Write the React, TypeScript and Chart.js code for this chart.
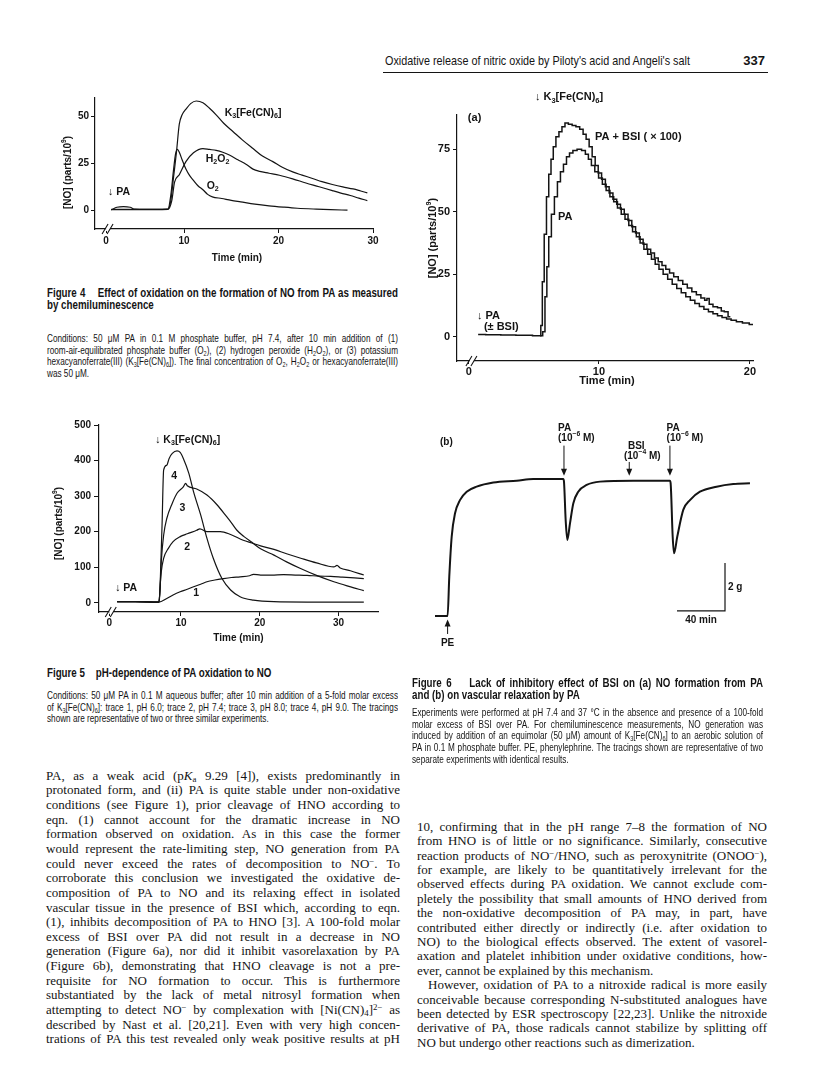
import React, { useEffect, useRef } from 'react';
import { Chart, registerables } from 'chart.js';
Chart.register(...registerables);

type P = [number, number];

// ---------------- Figure 4: time (min) vs [NO] (parts/10^9)
const fig4K3: P[] = [[2.3,0.5],[5.0,0.5],[8.3,0.7],[8.6,5],[8.9,18],[9.2,31],[9.5,46],[9.8,51],[10.2,54],[10.7,57],[11.3,58.4],[12.0,57.5],[12.7,54.5],[13.4,51],[14.2,46.5],[15.2,42],[16.2,37.5],[17.3,33],[18.3,29],[19.4,26],[20.4,23],[21.5,20.5],[22.5,18.8],[23.6,17],[24.6,15.3],[25.7,13.8],[26.8,12.5],[27.9,11.4],[28.7,10.3],[29.4,9.3]];
const fig4H2O2: P[] = [[2.3,0.3],[5.0,0.3],[8.3,0.5],[8.7,5],[9.0,15],[9.5,19],[10.2,26],[11.0,30.7],[12.0,33],[12.7,32.5],[13.4,32],[14.1,31],[14.8,29.5],[15.7,27],[16.6,24.5],[17.3,22],[18.0,20.8],[19.0,19.8],[20.1,18.7],[21.5,16.8],[22.9,14.6],[24.3,12.6],[25.7,10.5],[26.6,9.2],[27.6,7.9],[28.5,6.5],[29.4,5.2]];
const fig4O2: P[] = [[2.3,0.2],[2.9,1.6],[3.6,2],[4.3,1.6],[4.8,0.6],[6.0,0.5],[8.3,0.5],[8.6,8],[8.9,22],[9.1,30],[9.3,32.5],[9.5,31],[9.8,27],[10.2,22],[10.6,18.5],[11.0,16],[11.5,13],[12.0,11],[12.5,8.5],[13.0,7.2],[14.0,6.3],[15.0,5.3],[16.0,4.5],[17.5,3.3],[19.0,2.4],[20.5,1.7],[22.0,1.1],[24.0,0.6],[25.5,0.3],[27.3,0.1]];
const fig4YTicks = [0, 25, 50];
const fig4XTicks = [10, 20, 30];
const fig4ZeroTick = 1.75; // "0" label sits at the axis break

// ---------------- Figure 5: traces 1-4 (pH 6.0, 7.4, 8.0, 9.0)
const fig5Trace1: P[] = [[1.9,3],[4.2,3],[7.2,2],[8.2,12],[9.0,22],[9.9,31],[10.8,38],[11.6,45],[12.5,52],[13.3,59],[14.3,64],[15.4,68],[16.4,71],[17.5,73],[18.7,76],[19.2,80],[20.1,78],[21.5,78],[23.0,79],[24.5,78],[26.0,77],[27.5,75],[29.0,74],[30.5,72],[32.0,70],[33.2,68]];
const fig5Trace2: P[] = [[1.9,3],[4.2,3],[7.2,2],[7.4,60],[7.5,87],[7.8,125],[8.4,153],[9.0,172],[9.9,186],[10.8,194],[12.0,204],[12.4,208],[13.3,200],[15.0,200],[16.3,192],[17.9,176],[19.0,168],[20.1,160],[21.8,150],[23.4,138],[25.1,126],[27.2,112],[29.4,101],[29.8,105],[30.2,98],[31.5,90],[33.2,78]];
const fig5Trace3: P[] = [[1.9,3],[4.2,3],[7.2,2],[7.35,40],[7.5,115],[7.8,190],[8.2,237],[8.9,280],[9.5,308],[10.3,326],[10.6,336],[10.8,329],[12.0,320],[13.3,303],[14.6,275],[15.8,242],[16.5,222],[17.1,204],[18.0,186],[19.0,170],[20.1,152],[21.8,134],[23.4,115],[25.1,97],[27.2,77],[29.4,59],[31.3,46],[33.2,34]];
const fig5Trace4: P[] = [[1.9,3],[4.2,3],[7.2,2],[7.3,20],[7.4,78],[7.6,218],[7.8,373],[8.2,387],[8.5,406],[8.9,420],[9.5,427],[9.9,423],[10.3,406],[11.0,364],[11.6,312],[12.5,247],[13.3,181],[14.1,125],[15.2,68],[16.3,36],[17.5,17],[19.2,7.5],[21.8,3],[26.0,2],[33.2,2]];
const fig5YTicks = [0, 100, 200, 300, 400, 500];
const fig5XTicks = [10, 20, 30];
const fig5ZeroTick = 0.9;

// ---------------- Figure 6a: PA and PA + BSI (x100)
const fig6aPA: P[] = [[2.0,0.9],[3.0,0.8],[4.0,0.7],[5.0,0.6],[6.2,0.4],[6.35,2],[6.5,16],[6.6,28],[6.75,40],[6.95,49],[7.15,56],[7.35,62],[7.55,66],[7.75,69],[7.95,72],[8.15,73.5],[8.4,74.5],[8.7,75],[9.0,74.5],[9.2,73],[9.4,71],[9.6,68.5],[9.85,66],[10.1,63.5],[10.35,61],[10.6,58.5],[10.85,56],[11.1,54],[11.35,51.5],[11.6,49],[11.85,47],[12.1,44.5],[12.35,42],[12.6,40],[12.85,37.5],[13.1,35],[13.35,33],[13.6,31],[13.85,29],[14.1,27],[14.4,25],[14.7,23],[15.0,21],[15.3,19.3],[15.6,17.6],[15.9,16],[16.2,14.6],[16.5,13.3],[16.8,12.1],[17.1,11],[17.4,10],[17.7,9.2],[18.0,8.4],[18.3,7.7],[18.6,7.1],[18.9,6.6],[19.3,6.0],[19.7,5.5],[20.2,4.9]];
const fig6aPABSI: P[] = [[6.1,0.4],[6.2,4.5],[6.3,22],[6.45,41],[6.6,56],[6.75,65],[6.9,71],[7.05,76],[7.25,80],[7.45,82],[7.65,84],[7.85,85.5],[8.1,85],[8.35,84.5],[8.6,84],[8.85,83],[9.05,81],[9.25,79],[9.45,76],[9.65,72],[9.85,68.5],[10.05,65.5],[10.3,63],[10.55,60],[10.8,57.5],[11.05,55],[11.3,53],[11.55,51],[11.8,49],[12.05,46.5],[12.3,44],[12.55,41.5],[12.8,39],[13.05,37],[13.3,35],[13.55,33.5],[13.8,31.5],[14.05,30],[14.3,28.5],[14.55,27],[14.8,25.5],[15.1,24],[15.4,22.5],[15.7,21],[16.0,19.5],[16.3,18],[16.6,16.8],[16.9,15.5],[17.1,14.6],[17.2,15.3],[17.4,13],[17.7,12],[18.0,11.6],[18.2,10.3],[18.4,10],[18.7,8]];
const fig6aYTicks = [0, 25, 50, 75];
const fig6aXTicks = [10, 20];
const fig6aZeroTick = 1.39;

// ---------------- Figure 6b: isometric tension (g) vs time (min)
const fig6bTension: P[] = [[0,0],[10.5,0],[11.9,1.64],[13.9,3.3],[16.7,4.28],[20.8,4.83],[26.4,5.18],[34.7,5.39],[48.6,5.56],[68.1,5.64],[81.9,5.71],[106.9,5.71],[107.5,5.6],[108.9,4.0],[110.3,3.17],[112.5,3.86],[115.3,4.7],[119.4,5.18],[126.4,5.46],[137.5,5.6],[165.3,5.64],[195.8,5.64],[196.4,5.53],[198.1,3.3],[199.2,2.61],[201.9,3.3],[206.9,4.42],[212.5,4.83],[220.8,5.18],[234.7,5.39],[248.6,5.5],[262.5,5.53]];
const fig6bScaleMinutes = 40;
const fig6bScaleGrams = 2;

// ---------------- text
const SANS = '"Liberation Sans", Arial, Helvetica, sans-serif';
const SERIF = '"Liberation Serif", "Times New Roman", serif';
const INK = '#141414';

type Seg = { t: string; k: number; w?: number };
function parseSegs(s: string): Seg[] {
  const out: Seg[] = [];
  let buf = '';
  for (let i = 0; i < s.length; ) {
    const c = s[i];
    if ((c === '_' || c === '^') && i + 1 < s.length) {
      if (buf) { out.push({ t: buf, k: 0 }); buf = ''; }
      let t: string;
      if (s[i + 1] === '{') { const j = s.indexOf('}', i); t = s.slice(i + 2, j); i = j + 1; }
      else { t = s[i + 1]; i += 2; }
      out.push({ t, k: c === '_' ? 1 : -1 });
      continue;
    }
    buf += c; i++;
  }
  if (buf) out.push({ t: buf, k: 0 });
  return out;
}

function drawRich(ctx: CanvasRenderingContext2D, s: string, x: number, y: number, size: number, weight: string, align: string) {
  const segs = parseSegs(s);
  const f = (k: number) => `${weight} ${k ? size * 0.68 : size}px ${SANS}`;
  let w = 0;
  for (const g of segs) { ctx.font = f(g.k); g.w = ctx.measureText(g.t).width; w += g.w; }
  let cx = align === 'center' ? x - w / 2 : align === 'right' ? x - w : x;
  ctx.textBaseline = 'middle';
  ctx.textAlign = 'left';
  for (const g of segs) {
    ctx.font = f(g.k);
    ctx.fillText(g.t, cx, y + (g.k === 1 ? size * 0.32 : g.k === -1 ? -size * 0.38 : 0));
    cx += g.w || 0;
  }
}

function drawArrow(ctx: CanvasRenderingContext2D, x: number, y1: number, y2: number) {
  const dir = y2 > y1 ? 1 : -1;
  ctx.lineWidth = 1;
  ctx.beginPath();
  ctx.moveTo(x, y1);
  ctx.lineTo(x, y2 - dir * 5);
  ctx.stroke();
  ctx.beginPath();
  ctx.moveTo(x, y2);
  ctx.lineTo(x - 3, y2 - dir * 7);
  ctx.lineTo(x + 3, y2 - dir * 7);
  ctx.closePath();
  ctx.fill();
}

const decor = {
  id: 'decor',
  afterDraw(chart: any, _a: any, opts: any) {
    const { ctx, chartArea: ca, scales } = chart;
    const X = (v: number) => scales.x.getPixelForValue(v);
    const Y = (v: number) => scales.y.getPixelForValue(v);
    for (const it of opts.items || []) {
      ctx.save();
      ctx.fillStyle = INK;
      ctx.strokeStyle = INK;
      const size = it.size || 10;
      const weight = it.weight || 'bold';
      if (it.kind === 'text') {
        drawRich(ctx, it.text, X(it.x), Y(it.y), size, weight, it.align || 'left');
      } else if (it.kind === 'arrow') {
        drawArrow(ctx, X(it.x), Y(it.y1), Y(it.y2));
      } else if (it.kind === 'xtitle') {
        drawRich(ctx, it.text, (ca.left + ca.right) / 2 + (it.dx || 0), ca.bottom + it.dy, size, weight, 'center');
      } else if (it.kind === 'ytitle') {
        ctx.translate(ca.left - it.dx, (ca.top + ca.bottom) / 2 + (it.dy || 0));
        ctx.rotate(-Math.PI / 2);
        drawRich(ctx, it.text, 0, 0, size, weight, 'center');
      } else if (it.kind === 'break') {
        const px = X(it.x) + (it.off || 0);
        const py = ca.bottom;
        ctx.fillStyle = '#fff';
        ctx.fillRect(px - 3, py - 2, 4, 4);
        ctx.lineWidth = 1.1;
        ctx.beginPath();
        ctx.moveTo(px - 7, py + 5); ctx.lineTo(px - 1, py - 5);
        ctx.moveTo(px - 2, py + 5); ctx.lineTo(px + 4, py - 5);
        ctx.stroke();
      } else if (it.kind === 'scalebar') {
        ctx.lineWidth = 1.2;
        ctx.beginPath();
        ctx.moveTo(X(it.x - it.dxv), Y(it.y));
        ctx.lineTo(X(it.x), Y(it.y));
        ctx.lineTo(X(it.x), Y(it.y + it.dyv));
        ctx.stroke();
      }
      ctx.restore();
    }
  },
};

type AxisParams = {
  series: P[][]; lw: number; stepped?: boolean;
  xMin: number; xMax: number; yMin: number; yMax: number;
  xTicks: number[]; yTicks: number[]; zeroTick: number;
  yW: number; xH: number; padTop: number; padRight: number;
  tickSize: number; xTickLen: number; xPad: number; yTickLen: number; yPad: number;
  items: any[];
};

function axisConfig(p: AxisParams): any {
  const tf = { family: SANS, size: p.tickSize, weight: 'bold' };
  return {
    type: 'line',
    data: {
      datasets: p.series.map((s) => ({
        data: s.map(([x, y]) => ({ x, y })),
        borderColor: INK,
        borderWidth: p.lw,
        pointRadius: 0,
        fill: false,
        stepped: p.stepped ? 'middle' : false,
        cubicInterpolationMode: p.stepped ? 'default' : 'monotone',
      })),
    },
    options: {
      responsive: false,
      animation: false,
      devicePixelRatio: 1,
      events: [],
      layout: { padding: { top: p.padTop, right: p.padRight, left: 0, bottom: 0 } },
      plugins: { legend: { display: false }, tooltip: { enabled: false }, decor: { items: p.items } },
      scales: {
        x: {
          type: 'linear', min: p.xMin, max: p.xMax,
          afterFit: (s: any) => { s.height = p.xH; },
          afterBuildTicks: (s: any) => { s.ticks = [p.zeroTick, ...p.xTicks].map((v) => ({ value: v })); },
          ticks: { autoSkip: false, maxRotation: 0, padding: p.xPad, color: INK, font: tf, callback: (v: number) => (v === p.zeroTick ? '0' : String(v)) },
          grid: { drawOnChartArea: false, drawTicks: true, tickLength: p.xTickLen, color: INK, lineWidth: 1 },
          border: { display: true, color: INK, width: 1.2 },
        },
        y: {
          type: 'linear', min: p.yMin, max: p.yMax,
          afterFit: (s: any) => { s.width = p.yW; },
          afterBuildTicks: (s: any) => { s.ticks = p.yTicks.map((v) => ({ value: v })); },
          ticks: { autoSkip: false, padding: p.yPad, color: INK, font: tf },
          grid: { drawOnChartArea: false, drawTicks: true, tickLength: p.yTickLen, color: INK, lineWidth: 1 },
          border: { display: true, color: INK, width: 1.2 },
        },
      },
    },
    plugins: [decor],
  };
}

const fig4Config = () => axisConfig({
  series: [fig4K3, fig4H2O2, fig4O2], lw: 1.2,
  xMin: 0.58, xMax: 30, yMin: -10, yMax: 60,
  xTicks: fig4XTicks, yTicks: fig4YTicks, zeroTick: fig4ZeroTick,
  yW: 55, xH: 41, padTop: 13, padRight: 17,
  tickSize: 10, xTickLen: 4, xPad: 2, yTickLen: 4, yPad: 2,
  items: [
    { kind: 'break', x: fig4ZeroTick, off: 3 },
    { kind: 'ytitle', text: '[NO] (parts/10^9)', dx: 27, dy: 9, size: 10 },
    { kind: 'xtitle', text: 'Time (min)', dx: 3, dy: 29, size: 10 },
    { kind: 'text', text: 'K_3[Fe(CN)_6]', x: 14.3, y: 52.1, size: 10.5 },
    { kind: 'text', text: 'H_2O_2', x: 12.3, y: 27.5, size: 10.5 },
    { kind: 'text', text: 'O_2', x: 12.4, y: 13, size: 10.5 },
    { kind: 'text', text: '↓ PA', x: 1.96, y: 9.9, size: 10.5 },
  ],
});

const fig5Config = () => axisConfig({
  series: [fig5Trace1, fig5Trace2, fig5Trace3, fig5Trace4], lw: 1.2,
  xMin: -0.4, xMax: 35, yMin: -26, yMax: 500,
  xTicks: fig5XTicks, yTicks: fig5YTicks, zeroTick: fig5ZeroTick,
  yW: 59, xH: 38, padTop: 10, padRight: 12,
  tickSize: 10, xTickLen: 4, xPad: 1, yTickLen: 5, yPad: 3,
  items: [
    { kind: 'break', x: fig5ZeroTick, off: 3 },
    { kind: 'ytitle', text: '[NO] (parts/10^9)', dx: 40, dy: 5, size: 10 },
    { kind: 'xtitle', text: 'Time (min)', dx: 0, dy: 26, size: 10 },
    { kind: 'text', text: '↓ K_3[Fe(CN)_6]', x: 6.73, y: 458, size: 10.5 },
    { kind: 'text', text: '4', x: 9.15, y: 357, size: 10.5, align: 'center' },
    { kind: 'text', text: '3', x: 10.17, y: 266, size: 10.5, align: 'center' },
    { kind: 'text', text: '2', x: 10.8, y: 157, size: 10.5, align: 'center' },
    { kind: 'text', text: '1', x: 11.94, y: 27, size: 10.5, align: 'center' },
    { kind: 'text', text: '↓ PA', x: 1.65, y: 41, size: 10.5 },
  ],
});

const fig6aConfig = () => axisConfig({
  series: [fig6aPA, fig6aPABSI], lw: 1.5, stepped: true,
  xMin: 0.6, xMax: 20.2, yMin: -9.7, yMax: 88.7,
  xTicks: fig6aXTicks, yTicks: fig6aYTicks, zeroTick: fig6aZeroTick,
  yW: 57, xH: 29, padTop: 30, padRight: 27,
  tickSize: 11, xTickLen: 3, xPad: 1, yTickLen: 4, yPad: 3,
  items: [
    { kind: 'break', x: fig6aZeroTick, off: 4 },
    { kind: 'ytitle', text: '[NO] (parts/10^9)', dx: 24, dy: 0, size: 11 },
    { kind: 'xtitle', text: 'Time (min)', dx: 2, dy: 20, size: 11 },
    { kind: 'text', text: '↓ K_3[Fe(CN)_6]', x: 5.76, y: 95.9, size: 11 },
    { kind: 'text', text: '(a)', x: 1.32, y: 87.5, size: 11 },
    { kind: 'text', text: 'PA + BSI ( × 100)', x: 9.74, y: 79.9, size: 11 },
    { kind: 'text', text: 'PA', x: 7.28, y: 47.9, size: 11 },
    { kind: 'text', text: '↓ PA', x: 1.92, y: 8.3, size: 11 },
    { kind: 'text', text: '(± BSI)', x: 2.38, y: 3.9, size: 11 },
  ],
});

const fig6bConfig = (): any => ({
  type: 'line',
  data: { datasets: [{ data: fig6bTension.map(([x, y]) => ({ x, y })), borderColor: INK, borderWidth: 2, pointRadius: 0, fill: false, cubicInterpolationMode: 'monotone' }] },
  options: {
    responsive: false, animation: false, devicePixelRatio: 1, events: [],
    layout: { padding: { left: 35, top: 15, right: 25, bottom: 55 } },
    plugins: {
      legend: { display: false }, tooltip: { enabled: false },
      decor: {
        items: [
          { kind: 'text', text: '(b)', x: 4.2, y: 7.25, size: 10 },
          { kind: 'text', text: 'PA', x: 102.5, y: 7.83, size: 10 },
          { kind: 'text', text: '(10^{−6} M)', x: 102.5, y: 7.42, size: 10 },
          { kind: 'arrow', x: 107.5, y1: 7.1, y2: 5.85 },
          { kind: 'text', text: 'BSI', x: 160.8, y: 7.08, size: 10 },
          { kind: 'text', text: '(10^{−4} M)', x: 157.5, y: 6.67, size: 10 },
          { kind: 'arrow', x: 161.9, y1: 6.42, y2: 5.85 },
          { kind: 'text', text: 'PA', x: 193, y: 7.83, size: 10 },
          { kind: 'text', text: '(10^{−6} M)', x: 193, y: 7.42, size: 10 },
          { kind: 'arrow', x: 195.8, y1: 7.1, y2: 5.85 },
          { kind: 'arrow', x: 10.5, y1: -0.75, y2: -0.15 },
          { kind: 'text', text: 'PE', x: 10.5, y: -1.14, size: 10, align: 'center' },
          { kind: 'scalebar', x: 241.7, y: 0.21, dxv: fig6bScaleMinutes, dyv: fig6bScaleGrams },
          { kind: 'text', text: `${fig6bScaleGrams} g`, x: 244.2, y: 1.21, size: 10 },
          { kind: 'text', text: `${fig6bScaleMinutes} min`, x: 221.7, y: -0.17, size: 10, align: 'center' },
        ],
      },
    },
    scales: { x: { type: 'linear', display: false, min: 0, max: 266.7 }, y: { display: false, min: -0.375, max: 7.96 } },
  },
  plugins: [decor],
});

function ChartBox({ left, top, width, height, make }: { left: number; top: number; width: number; height: number; make: () => any }) {
  const ref = useRef<HTMLCanvasElement>(null);
  useEffect(() => {
    const c = new Chart(ref.current as HTMLCanvasElement, make());
    return () => c.destroy();
  }, []);
  return (
    <div style={{ position: 'absolute', left, top, width, height }}>
      <canvas ref={ref} width={width} height={height} style={{ width, height, display: 'block' }} />
    </div>
  );
}

// ---------------- HTML rich text
const subS: React.CSSProperties = { fontSize: '0.68em', verticalAlign: '-0.28em', lineHeight: 0 };
const supS: React.CSSProperties = { fontSize: '0.68em', verticalAlign: '0.5em', lineHeight: 0 };
function rich(s: string): React.ReactNode[] {
  const out: React.ReactNode[] = [];
  let buf = '';
  let it = false;
  let k = 0;
  const flush = () => { if (buf) { out.push(it ? <i key={k++}>{buf}</i> : <span key={k++}>{buf}</span>); buf = ''; } };
  for (let i = 0; i < s.length; ) {
    const c = s[i];
    if (c === '*') { flush(); it = !it; i++; continue; }
    if ((c === '_' || c === '^') && i + 1 < s.length) {
      flush();
      let t: string;
      if (s[i + 1] === '{') { const j = s.indexOf('}', i); t = s.slice(i + 2, j); i = j + 1; }
      else { t = s[i + 1]; i += 2; }
      out.push(c === '_' ? <sub key={k++} style={subS}>{t}</sub> : <sup key={k++} style={supS}>{t}</sup>);
      continue;
    }
    buf += c; i++;
  }
  flush();
  return out;
}

type Line = { t: string; j?: boolean; indent?: number };
function Lines({ left, width, y0, step, lines, font, size, weight, squeeze }: { left: number; width: number; y0: number; step: number; lines: Line[]; font: string; size: number; weight?: string | number; squeeze?: number }) {
  const k = squeeze || 1;
  return (
    <>
      {lines.map((l, i) => (
        <div key={i} style={{
          position: 'absolute', left: left + (l.indent || 0), top: y0 + i * step - step / 2,
          width: (width - (l.indent || 0)) / k, height: step,
          transform: k !== 1 ? `scaleX(${k})` : undefined, transformOrigin: '0 0',
          lineHeight: `${step}px`, whiteSpace: 'nowrap', fontFamily: font, fontSize: size, fontWeight: weight || 'normal', color: INK,
          textAlign: l.j ? 'justify' : 'left', textAlignLast: l.j ? 'justify' : 'left',
        } as React.CSSProperties}>{rich(l.t)}</div>
      ))}
    </>
  );
}

const J = (t: string, indent?: number): Line => ({ t, j: true, indent });
const L = (t: string, indent?: number): Line => ({ t, j: false, indent });
const GAP = '\u00a0\u00a0\u00a0\u00a0';

const headLine = [L("Oxidative release of nitric oxide by Piloty's acid and Angeli's salt")];
const fig4Title = [J(`Figure 4${GAP}Effect of oxidation on the formation of NO from PA as measured`), L('by chemiluminescence')];
const fig4Caption = [
  J('Conditions: 50 μM PA in 0.1 M phosphate buffer, pH 7.4, after 10 min addition of (1)'),
  J('room-air-equilibrated phosphate buffer (O_2), (2) hydrogen peroxide (H_2O_2), or (3) potassium'),
  J('hexacyanoferrate(III) (K_3[Fe(CN)_6]). The final concentration of O_2, H_2O_2 or hexacyanoferrate(III)'),
  L('was 50 μM.'),
];
const fig5Title = [L(`Figure 5${GAP}pH-dependence of PA oxidation to NO`)];
const fig5Caption = [
  J('Conditions: 50 μM PA in 0.1 M aqueous buffer; after 10 min addition of a 5-fold molar excess'),
  J('of K_3[Fe(CN)_6]: trace 1, pH 6.0; trace 2, pH 7.4; trace 3, pH 8.0; trace 4, pH 9.0. The tracings'),
  L('shown are representative of two or three similar experiments.'),
];
const fig6Title = [J(`Figure 6${GAP}Lack of inhibitory effect of BSI on (a) NO formation from PA`), L('and (b) on vascular relaxation by PA')];
const fig6Caption = [
  J('Experiments were performed at pH 7.4 and 37 °C in the absence and presence of a 100-fold'),
  J('molar excess of BSI over PA. For chemiluminescence measurements, NO generation was'),
  J('induced by addition of an equimolar (50 μM) amount of K_3[Fe(CN)_6] to an aerobic solution of'),
  J('PA in 0.1 M phosphate buffer. PE, phenylephrine. The tracings shown are representative of two'),
  L('separate experiments with identical results.'),
];
const leftBody = [
  J('PA, as a weak acid (p*K*_a 9.29 [4]), exists predominantly in'),
  J('protonated form, and (ii) PA is quite stable under non-oxidative'),
  J('conditions (see Figure 1), prior cleavage of HNO according to'),
  J('eqn. (1) cannot account for the dramatic increase in NO'),
  J('formation observed on oxidation. As in this case the former'),
  J('would represent the rate-limiting step, NO generation from PA'),
  J('could never exceed the rates of decomposition to NO^−. To'),
  J('corroborate this conclusion we investigated the oxidative de-'),
  J('composition of PA to NO and its relaxing effect in isolated'),
  J('vascular tissue in the presence of BSI which, according to eqn.'),
  J('(1), inhibits decomposition of PA to HNO [3]. A 100-fold molar'),
  J('excess of BSI over PA did not result in a decrease in NO'),
  J('generation (Figure 6a), nor did it inhibit vasorelaxation by PA'),
  J('(Figure 6b), demonstrating that HNO cleavage is not a pre-'),
  J('requisite for NO formation to occur. This is furthermore'),
  J('substantiated by the lack of metal nitrosyl formation when'),
  J('attempting to detect NO^− by complexation with [Ni(CN)_4]^{2−} as'),
  J('described by Nast et al. [20,21]. Even with very high concen-'),
  J('trations of PA this test revealed only weak positive results at pH'),
];
const rightBody = [
  J('10, confirming that in the pH range 7–8 the formation of NO'),
  J('from HNO is of little or no significance. Similarly, consecutive'),
  J('reaction products of NO^−/HNO, such as peroxynitrite (ONOO^−),'),
  J('for example, are likely to be quantitatively irrelevant for the'),
  J('observed effects during PA oxidation. We cannot exclude com-'),
  J('pletely the possibility that small amounts of HNO derived from'),
  J('the non-oxidative decomposition of PA may, in part, have'),
  J('contributed either directly or indirectly (i.e. after oxidation to'),
  J('NO) to the biological effects observed. The extent of vasorel-'),
  J('axation and platelet inhibition under oxidative conditions, how-'),
  L('ever, cannot be explained by this mechanism.'),
  J('However, oxidation of PA to a nitroxide radical is more easily', 11),
  J('conceivable because corresponding N-substituted analogues have'),
  J('been detected by ESR spectroscopy [22,23]. Unlike the nitroxide'),
  J('derivative of PA, those radicals cannot stabilize by splitting off'),
  L('NO but undergo other reactions such as dimerization.'),
];

export default function App() {
  return (
    <div style={{ position: 'absolute', left: 0, top: 0, width: 816, height: 1089, background: '#fff', overflow: 'hidden' }}>
      {/* running head */}
      <Lines left={385} width={320} y0={61} step={16} lines={headLine} font={SANS} size={13.5} squeeze={0.8} />
      <div style={{ position: 'absolute', left: 735, top: 53, width: 30, textAlign: 'right', fontFamily: SANS, fontWeight: 'bold', fontSize: 13, color: INK, lineHeight: '16px' }}>337</div>
      <div style={{ position: 'absolute', left: 383, top: 72, width: 385, height: 1, background: INK }} />

      <ChartBox left={40} top={85} width={350} height={185} make={fig4Config} />
      <ChartBox left={40} top={415} width={350} height={235} make={fig5Config} />
      <ChartBox left={400} top={85} width={380} height={305} make={fig6aConfig} />
      <ChartBox left={400} top={410} width={380} height={270} make={fig6bConfig} />

      <Lines left={47} width={351} y0={293} step={12} lines={fig4Title} font={SANS} size={12.5} weight="bold" squeeze={0.78} />
      <Lines left={47} width={351} y0={339} step={11.6} lines={fig4Caption} font={SANS} size={10.5} squeeze={0.78} />
      <Lines left={47} width={351} y0={673} step={12} lines={fig5Title} font={SANS} size={12.5} weight="bold" squeeze={0.78} />
      <Lines left={47} width={351} y0={696} step={11.6} lines={fig5Caption} font={SANS} size={10.5} squeeze={0.78} />
      <Lines left={412} width={351} y0={683} step={12.5} lines={fig6Title} font={SANS} size={12.5} weight="bold" squeeze={0.78} />
      <Lines left={412} width={351} y0={713} step={11.6} lines={fig6Caption} font={SANS} size={10.5} squeeze={0.78} />

      <Lines left={46} width={354} y0={776} step={14.65} lines={leftBody} font={SERIF} size={13} />
      <Lines left={417} width={350} y0={827} step={14.4} lines={rightBody} font={SERIF} size={13} />
    </div>
  );
}
